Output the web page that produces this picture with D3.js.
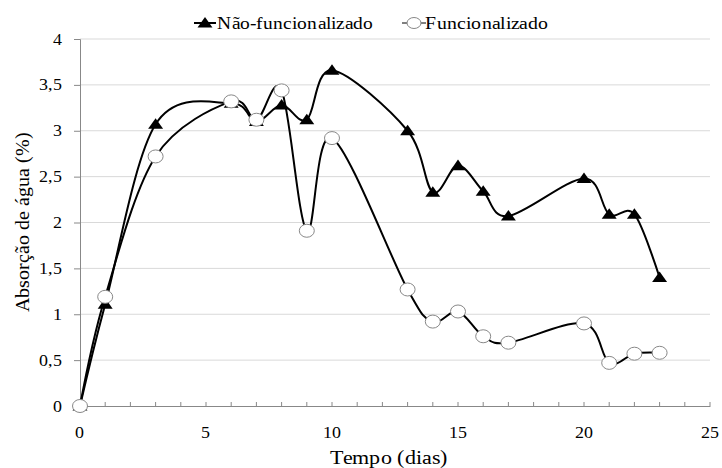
<!doctype html>
<meta charset='utf-8'>
<title>absorcao</title>
<style type="text/css">
	@font-face {
		font-family:'ChartSerif';
		src: local('Liberation Serif'), local('LiberationSerif'), local('LiberationSerif-Regular'), local('Times New Roman'), local('DejaVu Serif');
	}
	body { margin:0; background:white; }
	#container { position:relative; width:722px; height:468px; }
	#container svg { position:absolute; left:0; top:0; }
	#container svg text { font-family:'ChartSerif', 'Liberation Serif', 'DejaVu Serif', 'Noto Serif', serif; fill:#000; }
</style>
<div id='container'></div>
<script src="https://cdnjs.cloudflare.com/ajax/libs/d3/7.8.5/d3.min.js" charset="utf-8"></script>
<script>

	// dados
	var dias = [0, 1, 3, 6, 7, 8, 9, 10, 13, 14, 15, 16, 17, 20, 21, 22, 23]
	var naoFunc = [0, 1.11, 3.07, 3.3, 3.1, 3.28, 3.12, 3.66, 3.0, 2.33, 2.62, 2.34, 2.07, 2.48, 2.09, 2.09, 1.4]
	var func = [0, 1.19, 2.72, 3.32, 3.12, 3.44, 1.91, 2.92, 1.27, 0.92, 1.03, 0.76, 0.69, 0.9, 0.47, 0.57, 0.58]
	var yTicks = [0, 0.5, 1, 1.5, 2, 2.5, 3, 3.5, 4]
	var xTicks = [0, 5, 10, 15, 20, 25]
	var seriesNames = ['Não-funcionalizado', 'Funcionalizado']

	var W = 722, H = 468
	var x = d3.scaleLinear().domain([0, 25]).range([80, 710])
	var y = d3.scaleLinear().domain([0, 4]).range([406, 39])
	var fmt = function(d) { return String(d).replace('.', ',') }

	var svg = d3.select('#container').append('svg')
		.attr('width', W).attr('height', H)

	// texto: ancora + leve alongamento horizontal como no original
	function label(txt, px, py, size, anchor, sx, rot) {
		var t = 'translate(' + px + ',' + py + ')' + (rot ? ' rotate(' + rot + ')' : '') + ' scale(' + (sx || 1) + ',1)'
		return svg.append('text')
			.attr('transform', t)
			.attr('text-anchor', anchor)
			.attr('dy', '0.35em')
			.style('font-size', size + 'px')
			.text(txt)
	}

	// grade
	svg.append('g').selectAll('line').data(yTicks.filter(function(d){ return d > 0 }))
		.join('line')
		.attr('x1', x(0)).attr('x2', x(25))
		.attr('y1', function(d){ return y(d) }).attr('y2', function(d){ return y(d) })
		.style('stroke', '#d9d9d9').style('stroke-width', '1px')

	// eixo y
	var yAxis = svg.append('g').attr('transform', 'translate(' + x(0) + ',0)')
		.call(d3.axisLeft(y).tickValues(yTicks).tickFormat('').tickSize(6))
	yAxis.select('.domain').style('stroke', '#888')
	yAxis.selectAll('.tick line').style('stroke', '#888')
	yTicks.forEach(function(d) { label(fmt(d), 62, y(d), 16, 'end', 1.12) })

	// eixo x
	var xAxis = svg.append('g').attr('transform', 'translate(0,' + y(0) + ')')
		.call(d3.axisBottom(x).tickValues(xTicks).tickFormat('').tickSize(0))
	xAxis.select('.domain').style('stroke', '#888')
	svg.append('g').selectAll('line').data(d3.range(1, 26))
		.join('line')
		.attr('x1', function(d){ return x(d) }).attr('x2', function(d){ return x(d) })
		.attr('y1', y(0) - 4).attr('y2', y(0))
		.style('stroke', '#888')
	xTicks.forEach(function(d) { label(String(d), x(d), 432, 16, 'middle', 1.12) })

	// títulos
	label('Tempo (dias)', 389, 457, 20, 'middle', 1.1)
	label('Absorção de água (%)', 22, 222, 20, 'middle', 1, -90)

	var line = d3.line()
		.x(function(d){ return x(d[0]) })
		.y(function(d){ return y(d[1]) })
		.curve(d3.curveCardinal.tension(0))

	var tri = d3.symbol().type(d3.symbolTriangle).size(80)

	function drawSeries(vals, marker) {
		var pts = dias.map(function(d, i){ return [d, vals[i]] })
		svg.append('path').datum(pts).attr('d', line)
			.style('fill', 'none').style('stroke', '#000').style('stroke-width', '2px')
		var g = svg.append('g').selectAll('g').data(pts).join('g')
			.attr('transform', function(d){ return 'translate(' + x(d[0]) + ',' + y(d[1]) + ')' })
		marker(g)
	}

	function triMarker(g) {
		g.append('path').attr('d', tri).attr('transform', 'translate(0,1) scale(1.1,0.9)').style('fill', '#000')
	}
	function circMarker(g) {
		g.append('ellipse').attr('rx', 7.5).attr('ry', 6.5)
			.style('fill', '#fff').style('stroke', '#888').style('stroke-width', '1px')
	}

	drawSeries(naoFunc, triMarker)
	drawSeries(func, circMarker)

	// legenda
	var leg = svg.append('g')
	var l1 = leg.append('g').attr('transform', 'translate(205,23)')
	l1.append('line').attr('x1', -11).attr('x2', 11).style('stroke', '#000').style('stroke-width', '2px')
	l1.call(triMarker)
	label(seriesNames[0], 217, 23, 18, 'start', 1.08)

	var l2 = leg.append('g').attr('transform', 'translate(414,23)')
	l2.append('line').attr('x1', -12).attr('x2', 12).style('stroke', '#000').style('stroke-width', '1px')
	l2.append('ellipse').attr('rx', 7).attr('ry', 5.5).style('fill', '#fff').style('stroke', '#888')
	label(seriesNames[1], 425, 23, 18, 'start', 1.1)

</script>
